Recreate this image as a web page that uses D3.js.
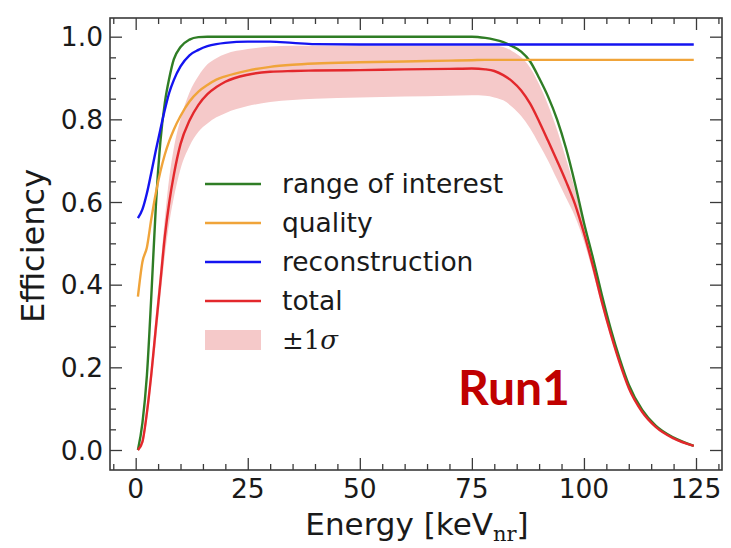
<!DOCTYPE html>
<html>
<head>
<meta charset="utf-8">
<script src="https://cdn.jsdelivr.net/npm/d3@7"></script>
<style>
  html, body { margin: 0; padding: 0; background: #fff; }
  svg { display: block; }
</style>
</head>
<body>
<svg id="chart" width="731" height="548"></svg>
<script>
// ---------------- data ----------------
const energy = [0.5, 1.5, 2.5, 3.5, 4.5, 5.5, 6.5, 7.5, 8.5, 10, 12, 14, 16, 18, 20, 25, 30, 35, 40, 50, 60, 70, 75, 78, 80, 82, 84, 86, 88, 90, 92, 94, 96, 98, 100, 102, 104, 106, 108, 110, 113, 116, 120, 124.5];
const rangeOfInterest = [0.0, 0.065, 0.18, 0.375, 0.59, 0.745, 0.84, 0.90, 0.945, 0.975, 0.993, 0.999, 1.0, 1.0, 1.0, 1.0, 1.0, 1.0, 1.0, 1.0, 1.0, 1.0, 1.0, 0.997, 0.993, 0.987, 0.977, 0.964, 0.94, 0.90, 0.855, 0.80, 0.73, 0.645, 0.55, 0.465, 0.375, 0.292, 0.22, 0.158, 0.097, 0.059, 0.03, 0.01];
const quality = [0.371, 0.455, 0.49, 0.56, 0.622, 0.673, 0.715, 0.748, 0.775, 0.808, 0.843, 0.867, 0.883, 0.896, 0.904, 0.918, 0.927, 0.932, 0.935, 0.938, 0.94, 0.942, 0.943, 0.944, 0.944, 0.944, 0.944, 0.944, 0.944, 0.944, 0.944, 0.944, 0.944, 0.944, 0.944, 0.944, 0.944, 0.944, 0.944, 0.944, 0.944, 0.944, 0.944, 0.944];
const reconstruction = [0.561, 0.582, 0.621, 0.672, 0.725, 0.775, 0.823, 0.865, 0.895, 0.928, 0.955, 0.968, 0.977, 0.982, 0.985, 0.988, 0.988, 0.985, 0.982, 0.981, 0.981, 0.981, 0.981, 0.981, 0.981, 0.981, 0.981, 0.981, 0.981, 0.981, 0.981, 0.981, 0.981, 0.981, 0.981, 0.981, 0.981, 0.981, 0.981, 0.981, 0.981, 0.981, 0.981, 0.981];
const total = [0.0, 0.02, 0.09, 0.185, 0.296, 0.405, 0.516, 0.60, 0.665, 0.74, 0.797, 0.835, 0.861, 0.878, 0.891, 0.908, 0.915, 0.917, 0.918, 0.919, 0.921, 0.922, 0.923, 0.921, 0.917, 0.907, 0.892, 0.870, 0.838, 0.795, 0.748, 0.70, 0.65, 0.595, 0.525, 0.445, 0.358, 0.28, 0.21, 0.15, 0.092, 0.056, 0.028, 0.01];
const totalUpper = [0.005, 0.03, 0.11, 0.21, 0.33, 0.44, 0.56, 0.66, 0.73, 0.80, 0.865, 0.905, 0.933, 0.948, 0.958, 0.97, 0.976, 0.978, 0.978, 0.978, 0.978, 0.978, 0.978, 0.978, 0.978, 0.975, 0.965, 0.95, 0.925, 0.885, 0.835, 0.775, 0.705, 0.63, 0.545, 0.46, 0.368, 0.288, 0.215, 0.154, 0.094, 0.057, 0.029, 0.01];
const totalLower = [0.0, 0.01, 0.07, 0.16, 0.26, 0.37, 0.47, 0.55, 0.61, 0.68, 0.735, 0.77, 0.79, 0.805, 0.815, 0.832, 0.842, 0.847, 0.85, 0.853, 0.855, 0.857, 0.858, 0.857, 0.853, 0.846, 0.83, 0.808, 0.778, 0.74, 0.70, 0.655, 0.61, 0.565, 0.505, 0.43, 0.348, 0.272, 0.205, 0.146, 0.09, 0.055, 0.027, 0.01];

const xTicks = [0, 25, 50, 75, 100, 125];
const yTicks = [0.0, 0.2, 0.4, 0.6, 0.8, 1.0];
const seriesNames = ["range of interest", "quality", "reconstruction", "total"];
const bandLabel = "±1σ";
const runLabel = "Run1";

// ---------------- styles ----------------
const colors = {
  "range of interest": "#2f7d25",
  "quality": "#f0a43a",
  "reconstruction": "#1414f0",
  "total": "#e3282c"
};
const bandColor = "#f5c9c9";
const axisColor = "#3a3a3a";

// ---------------- layout ----------------
const svg = d3.select("#chart");
const plot = { left: 110, right: 722, top: 18, bottom: 470 };

const x = d3.scaleLinear().domain([-5.73, 130.8]).range([plot.left, plot.right]);
const y = d3.scaleLinear().domain([-0.0484, 1.0452]).range([plot.bottom, plot.top]);

svg.append("defs").append("clipPath").attr("id", "clip")
  .append("rect")
  .attr("x", plot.left).attr("y", plot.top)
  .attr("width", plot.right - plot.left).attr("height", plot.bottom - plot.top);

const gData = svg.append("g").attr("clip-path", "url(#clip)");

const idx = d3.range(energy.length);

// band
gData.append("path")
  .datum(idx)
  .attr("fill", bandColor)
  .attr("d", d3.area()
    .curve(d3.curveMonotoneX)
    .x(i => x(energy[i]))
    .y0(i => y(totalLower[i]))
    .y1(i => y(totalUpper[i])));

const seriesData = {
  "range of interest": rangeOfInterest,
  "quality": quality,
  "reconstruction": reconstruction,
  "total": total
};

const line = vals => d3.line()
  .curve(d3.curveMonotoneX)
  .x(i => x(energy[i]))
  .y(i => y(vals[i]))(idx);

seriesNames.forEach(name => {
  gData.append("path")
    .attr("fill", "none")
    .attr("stroke", colors[name])
    .attr("stroke-width", 2.4)
    .attr("stroke-linejoin", "round")
    .attr("d", line(seriesData[name]));
});

// ---------------- axes (ticks inward on all sides) ----------------
const tickFont = "DejaVu Sans, sans-serif";
const xMinor = d3.range(-5, 131, 5).filter(v => !xTicks.includes(v));
const yMinor = d3.range(0, 21).map(k => +(k * 0.05).toFixed(2)).filter(v => !yTicks.some(t => Math.abs(t - v) < 1e-9));

const axesG = svg.append("g");

function addAxis(axisFn, scale, ticks, size, transform) {
  const g = axesG.append("g")
    .attr("transform", transform)
    .call(axisFn(scale).tickValues(ticks).tickSize(size).tickFormat(""));
  g.select(".domain").remove();
  g.selectAll(".tick line").attr("stroke", axisColor).attr("stroke-width", 1.3);
  g.selectAll(".tick text").remove();
  return g;
}

addAxis(d3.axisTop, x, xTicks, 12, `translate(0,${plot.bottom})`);
addAxis(d3.axisTop, x, xMinor, 6, `translate(0,${plot.bottom})`);
addAxis(d3.axisBottom, x, xTicks, 12, `translate(0,${plot.top})`);
addAxis(d3.axisBottom, x, xMinor, 6, `translate(0,${plot.top})`);
addAxis(d3.axisRight, y, yTicks, 12, `translate(${plot.left},0)`);
addAxis(d3.axisRight, y, yMinor, 6, `translate(${plot.left},0)`);
addAxis(d3.axisLeft, y, yTicks, 12, `translate(${plot.right},0)`);
addAxis(d3.axisLeft, y, yMinor, 6, `translate(${plot.right},0)`);

// tick labels
const labelsG = svg.append("g")
  .style("font-family", tickFont).style("font-size", "26.5px").attr("fill", "#1a1a1a");
labelsG.selectAll("text.xl").data(xTicks).join("text")
  .attr("class", "xl")
  .attr("x", d => x(d)).attr("y", 498)
  .attr("text-anchor", "middle")
  .text(d3.format("d"));
labelsG.selectAll("text.yl").data(yTicks).join("text")
  .attr("class", "yl")
  .attr("x", plot.left - 7).attr("y", d => y(d))
  .attr("dy", "0.36em")
  .attr("text-anchor", "end")
  .text(d3.format(".1f"));

// frame
svg.append("rect")
  .attr("x", plot.left).attr("y", plot.top)
  .attr("width", plot.right - plot.left).attr("height", plot.bottom - plot.top)
  .attr("fill", "none").attr("stroke", axisColor).attr("stroke-width", 1.6);

// axis titles
svg.append("text")
  .attr("transform", `translate(44,${(plot.top + plot.bottom) / 2 + 2}) rotate(-90)`)
  .attr("text-anchor", "middle")
  .style("font-family", tickFont).style("font-size", "32px").attr("fill", "#1a1a1a")
  .text("Efficiency");

const xt = svg.append("text")
  .attr("x", (plot.left + plot.right) / 2 + 1).attr("y", 535)
  .attr("text-anchor", "middle")
  .style("font-family", tickFont).style("font-size", "31px").attr("fill", "#1a1a1a");
xt.append("tspan").text("Energy [keV");
xt.append("tspan").attr("dy", 6).style("font-family", "DejaVu Serif, serif").style("font-size", "21px").text("nr");
xt.append("tspan").attr("dy", -6).text("]");

// ---------------- legend ----------------
const legend = svg.append("g").attr("transform", "translate(205,184)");
const rowH = 39;
seriesNames.forEach((name, i) => {
  legend.append("line")
    .attr("x1", 0).attr("x2", 56).attr("y1", i * rowH).attr("y2", i * rowH)
    .attr("stroke", colors[name]).attr("stroke-width", 2.4);
  legend.append("text")
    .attr("x", 77).attr("y", i * rowH).attr("dy", "0.35em")
    .style("font-family", tickFont).style("font-size", "26.5px").attr("fill", "#1a1a1a")
    .text(name);
});
legend.append("rect")
  .attr("x", 0).attr("y", 4 * rowH - 10).attr("width", 56).attr("height", 20)
  .attr("fill", bandColor);
const bl = legend.append("text")
  .attr("x", 77).attr("y", 4 * rowH).attr("dy", "0.35em")
  .style("font-family", "DejaVu Serif, serif").style("font-size", "26px").attr("fill", "#1a1a1a");
bl.append("tspan").text(bandLabel.slice(0, 2));
bl.append("tspan").style("font-style", "italic").text(bandLabel.slice(2));

// Run label
svg.append("text")
  .attr("x", 458).attr("y", 405)
  .style("font-family", "Lato, 'Open Sans', sans-serif").style("font-weight", "700")
  .style("font-size", "48px").attr("fill", "#c00000")
  .text(runLabel);
</script>
</body>
</html>
